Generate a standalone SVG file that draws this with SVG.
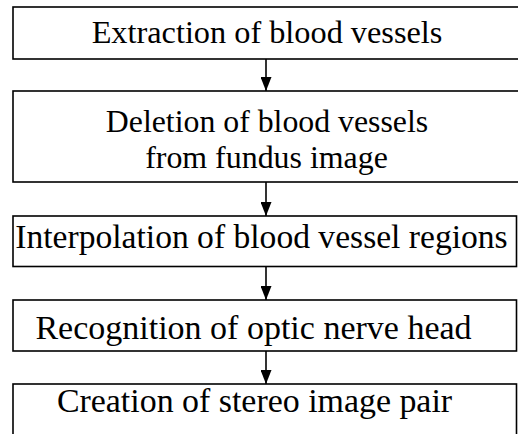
<svg xmlns="http://www.w3.org/2000/svg" width="518" height="434" viewBox="0 0 518 434">
<defs>
<style>
.box{fill:#fff;stroke:#000;stroke-width:1.6}
.t{font-family:'Liberation Serif',serif;fill:#000;text-anchor:middle}
.c{stroke:#000;stroke-width:1.6;fill:none}
</style>
<marker id="ah" markerWidth="14" markerHeight="11" refX="14" refY="5.5" orient="auto" markerUnits="userSpaceOnUse" viewBox="0 0 14 11">
<path d="M0,0 L14,5.5 L0,11 Z" fill="#000"/>
</marker>
</defs>
<rect width="518" height="434" fill="#fff"/>
<g id="n1"><rect class="box" x="13" y="7" width="510" height="52"/><text class="t" x="267" y="43" font-size="32.3">Extraction of blood vessels</text></g>
<g id="n2"><rect class="box" x="13" y="91" width="510" height="91"/><text class="t" x="267" y="132" font-size="31.8">Deletion of blood vessels</text><text class="t" x="266.5" y="168" font-size="31.9">from fundus image</text></g>
<g id="n3"><rect class="box" x="13" y="216" width="503.5" height="50.5"/><text class="t" x="261.5" y="248" font-size="33.6">Interpolation of blood vessel regions</text></g>
<g id="n4"><rect class="box" x="13" y="300" width="503.5" height="51"/><text class="t" x="253.5" y="339" font-size="34">Recognition of optic nerve head</text></g>
<g id="n5"><rect class="box" x="13" y="384" width="503.5" height="60"/><text class="t" x="254.5" y="412" font-size="33.9">Creation of stereo image pair</text></g>
<g id="connectors">
<line class="c" x1="266" y1="59" x2="266" y2="91" marker-end="url(#ah)"/>
<line class="c" x1="266" y1="182" x2="266" y2="216" marker-end="url(#ah)"/>
<line class="c" x1="266" y1="266.5" x2="266" y2="300" marker-end="url(#ah)"/>
<line class="c" x1="266" y1="351" x2="266" y2="384" marker-end="url(#ah)"/>
</g>
</svg>
